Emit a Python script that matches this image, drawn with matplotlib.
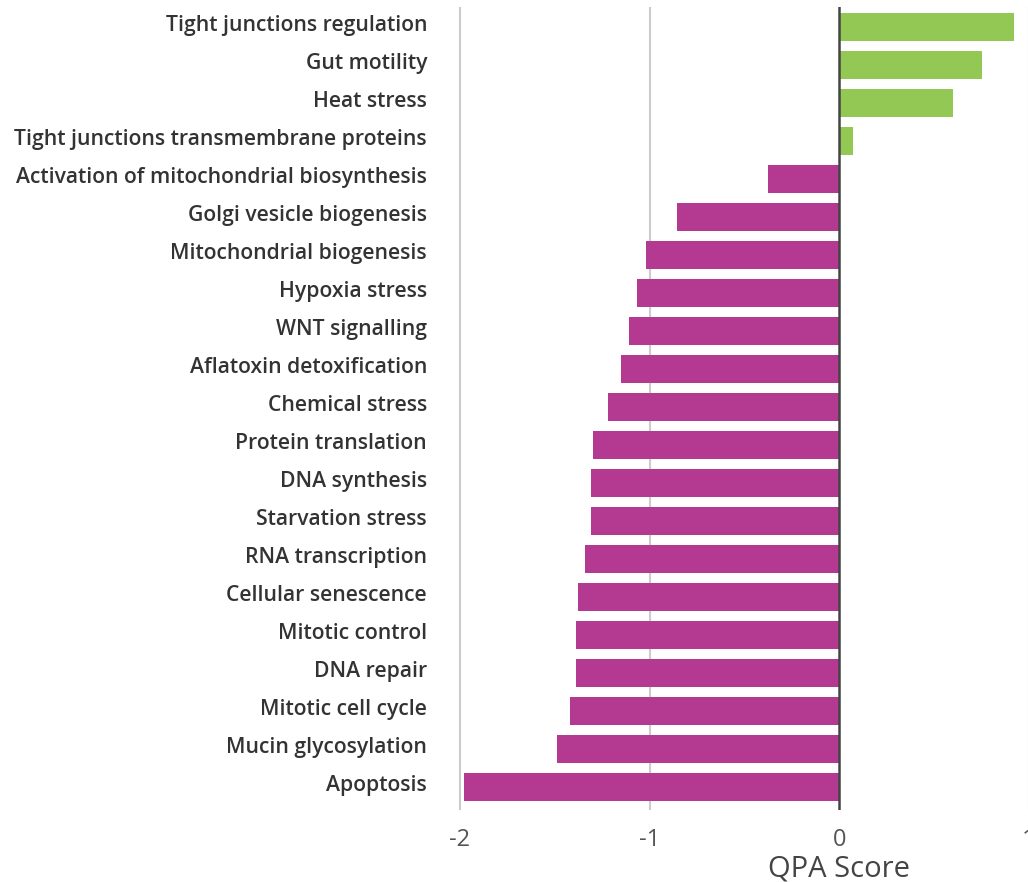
import matplotlib
matplotlib.use("Agg")
from matplotlib import pyplot as plt
from matplotlib import transforms

plt.rcParams['font.family'] = ['Open Sans', 'DejaVu Sans']

pathways = [
    "Tight junctions regulation", "Gut motility", "Heat stress",
    "Tight junctions transmembrane proteins",
    "Activation of mitochondrial biosynthesis", "Golgi vesicle biogenesis",
    "Mitochondrial biogenesis", "Hypoxia stress", "WNT signalling",
    "Aflatoxin detoxification", "Chemical stress", "Protein translation",
    "DNA synthesis", "Starvation stress", "RNA transcription",
    "Cellular senescence", "Mitotic control", "DNA repair",
    "Mitotic cell cycle", "Mucin glycosylation", "Apoptosis",
]
qpa_scores = [
    0.92, 0.75, 0.60, 0.074, -0.375, -0.855, -1.02, -1.066, -1.108, -1.15,
    -1.22, -1.30, -1.31, -1.31, -1.34, -1.38, -1.39, -1.39, -1.42, -1.49, -1.98,
]
xticks = [-2, -1, 0, 1]

GREEN = "#92c853"
MAGENTA = "#b43a91"

fig = plt.figure(figsize=(10.28, 8.82), dpi=100)
W, H = 1028, 882
# axes in pixel terms: x=-2.1 at 441, x=1.0 at 1029; top 7, bottom 810
ax = fig.add_axes([441 / W, (H - 810) / H, (1029 - 441) / W, (810 - 7) / H])

ypos = list(range(len(pathways)))
colors = [GREEN if v > 0 else MAGENTA for v in qpa_scores]
ax.barh(ypos, qpa_scores, height=0.74, color=colors, zorder=2)

ax.set_xlim(-2.1, 1.0)
ax.set_ylim(len(pathways) - 0.4, -0.53)
ax.set_xticks(xticks)
ax.set_xticklabels([str(t) for t in xticks], fontsize=17, color="#555555")
ax.set_yticks(ypos)
ax.set_yticklabels(pathways, fontsize=15.2, fontweight="semibold", color="#333333")
ax.tick_params(axis="both", length=0)
ax.tick_params(axis="x", pad=13)
ax.tick_params(axis="y", pad=10)

# nudge category labels up a little, as in the original
shift = transforms.ScaledTranslation(0, 4 / 100, fig.dpi_scale_trans)
for lab in ax.get_yticklabels():
    lab.set_transform(lab.get_transform() + shift)

for t in xticks:
    if t == 0:
        ax.axvline(t, color="#444444", lw=1.8, zorder=3)
    else:
        ax.axvline(t, color="#cccccc", lw=1.5, zorder=1)

for s in ax.spines.values():
    s.set_visible(False)

fig.text(839 / W, 1 - 869 / H, "QPA Score", ha="center", va="center",
         fontsize=21, color="#444444")

fig.savefig("out.png", dpi=100)
